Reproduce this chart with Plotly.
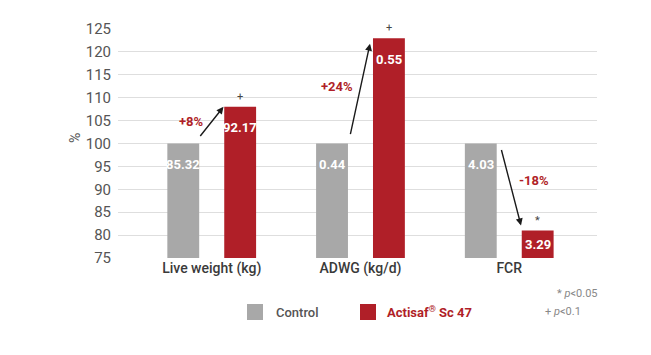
import plotly.graph_objects as go

categories = ["Live weight (kg)", "ADWG (kg/d)", "FCR"]
control_pct = [100, 100, 100]
actisaf_pct = [108, 123, 81]
control_vals = ["85.32", "0.44", "4.03"]
actisaf_vals = ["92.17", "0.55", "3.29"]
change_labels = ["+8%", "+24%", "-18%"]
signif = ["+", "+", "*"]
y_ticks = [75, 80, 85, 90, 95, 100, 105, 110, 115, 120, 125]

GRAY = "#a8a8a8"
RED = "#b01f28"
FONT = "Roboto, Liberation Sans, sans-serif"

W, H = 651, 355
L, R, T, B = 118, 54, 29, 97
YMIN, YMAX = 75, 125
XR = [-0.63, 2.59]
BARGAP, GROUPGAP = 0.235, 0.44
plot_h = H - T - B
px_per_unit = plot_h / (YMAX - YMIN)
slot = (1 - BARGAP) / 2
off = slot / 2
half_w = slot * (1 - GROUPGAP) / 2

fig = go.Figure()
fig.add_trace(go.Bar(x=categories, y=control_pct, name="Control", marker_color=GRAY,
                     marker_line_width=0, showlegend=False, hoverinfo="skip"))
fig.add_trace(go.Bar(x=categories, y=actisaf_pct, name="Actisaf® Sc 47", marker_color=RED,
                     marker_line_width=0, showlegend=False, hoverinfo="skip"))

ann = []
# value labels inside bars
for i in range(len(categories)):
    for xo, v, lab in [(-off, control_pct[i], control_vals[i]), (off, actisaf_pct[i], actisaf_vals[i])]:
        vis = (v - YMIN) * px_per_unit
        shift = min(21, vis / 2)
        ann.append(dict(x=i + xo, y=v, xref="x", yref="y", text=f"<b>{lab}</b>", showarrow=False,
                        yanchor="middle", yshift=-shift,
                        font=dict(family=FONT, size=13, color="white")))
    # significance mark
    ann.append(dict(x=i + off, y=actisaf_pct[i], xref="x", yref="y", text=signif[i], showarrow=False,
                    yanchor="bottom", yshift=2, font=dict(family=FONT, size=11, color="#444")))

# arrows (tail near control bar top, head at Actisaf bar top-left)
arrow_specs = [
    ((-0.085, 101.3), (off - half_w - 0.005, actisaf_pct[0])),
    ((-0.07, 101.7), (off - half_w - 0.02, actisaf_pct[1] - 1.2)),
    ((-0.055, 98.9), (off - half_w - 0.005, actisaf_pct[2] + 1.1)),
]
for i, ((tx, ty), (hx, hy)) in enumerate(arrow_specs):
    ann.append(dict(x=i + hx, y=hy, ax=i + tx, ay=ty, xref="x", yref="y", axref="x", ayref="y",
                    text="", showarrow=True, arrowhead=2, arrowsize=1, arrowwidth=1.4,
                    arrowcolor="#1a1a1a", standoff=0, startstandoff=0))

# change labels
change_pos = [(-0.136, 104.8), (-0.156, 112.4), (0.166, 91.9)]
for i, (dx, yy) in enumerate(change_pos):
    ann.append(dict(x=i + dx, y=yy, xref="x", yref="y", text=f"<b>{change_labels[i]}</b>",
                    showarrow=False, font=dict(family=FONT, size=13, color=RED)))

# y axis title
ann.append(dict(x=(65 - L) / (W - L - R), y=(H - B - 138) / plot_h, xref="paper", yref="paper",
                text="%", textangle=-90, showarrow=False, font=dict(family=FONT, size=14, color="#555")))

# custom legend
def px_x(px):
    return (px - L) / (W - L - R)

def px_y(py):
    return (H - B - py) / plot_h

shapes = []
legend_items = [("Control", GRAY, 247, 274, "#555", 500), ("Actisaf<sup>®</sup> Sc 47", RED, 360, 385, RED, 700)]
for name, col, sx, tx, tcol, wt in legend_items:
    shapes.append(dict(type="rect", xref="paper", yref="paper", x0=px_x(sx), x1=px_x(sx + 16),
                       y0=px_y(320), y1=px_y(304), fillcolor=col, line_width=0))
    ann.append(dict(x=px_x(tx), y=px_y(312), xref="paper", yref="paper", text=name,
                    showarrow=False, xanchor="left", yanchor="middle",
                    font=dict(family=FONT, size=13, color=tcol, weight=wt)))

ann.append(dict(x=px_x(600), y=px_y(293), xref="paper", yref="paper", text="* <i>p</i>&lt;0.05",
                showarrow=False, xanchor="right", yanchor="middle", font=dict(family=FONT, size=11, color="#888")))
ann.append(dict(x=px_x(543), y=px_y(311), xref="paper", yref="paper", text="+ <i>p</i>&lt;0.1",
                showarrow=False, xanchor="left", yanchor="middle", font=dict(family=FONT, size=11, color="#888")))

# emphasized 100 line
shapes.append(dict(type="line", xref="paper", yref="y", x0=0, x1=1, y0=100, y1=100,
                   line=dict(color="#9a9a9a", width=1), layer="below"))

fig.update_layout(
    width=W, height=H, margin=dict(l=L, r=R, t=T, b=B),
    paper_bgcolor="white", plot_bgcolor="white",
    barmode="group", bargap=BARGAP, bargroupgap=GROUPGAP,
    annotations=ann, shapes=shapes, showlegend=False,
    xaxis=dict(range=XR, showgrid=False, showline=False, ticks="", zeroline=False,
               tickfont=dict(family=FONT, size=14, color="#3a3a3a", weight=500)),
    yaxis=dict(range=[YMIN, YMAX], tickvals=y_ticks, showgrid=True, gridcolor="#dedede", gridwidth=1,
               zeroline=False, showline=False, ticks="", ticklabelstandoff=6,
               tickfont=dict(family=FONT, size=15, color="#555")),
)
fig.write_html("out.html", config={"displayModeBar": False},
               post_script="document.body.style.margin='0';document.body.style.overflow='hidden';")
